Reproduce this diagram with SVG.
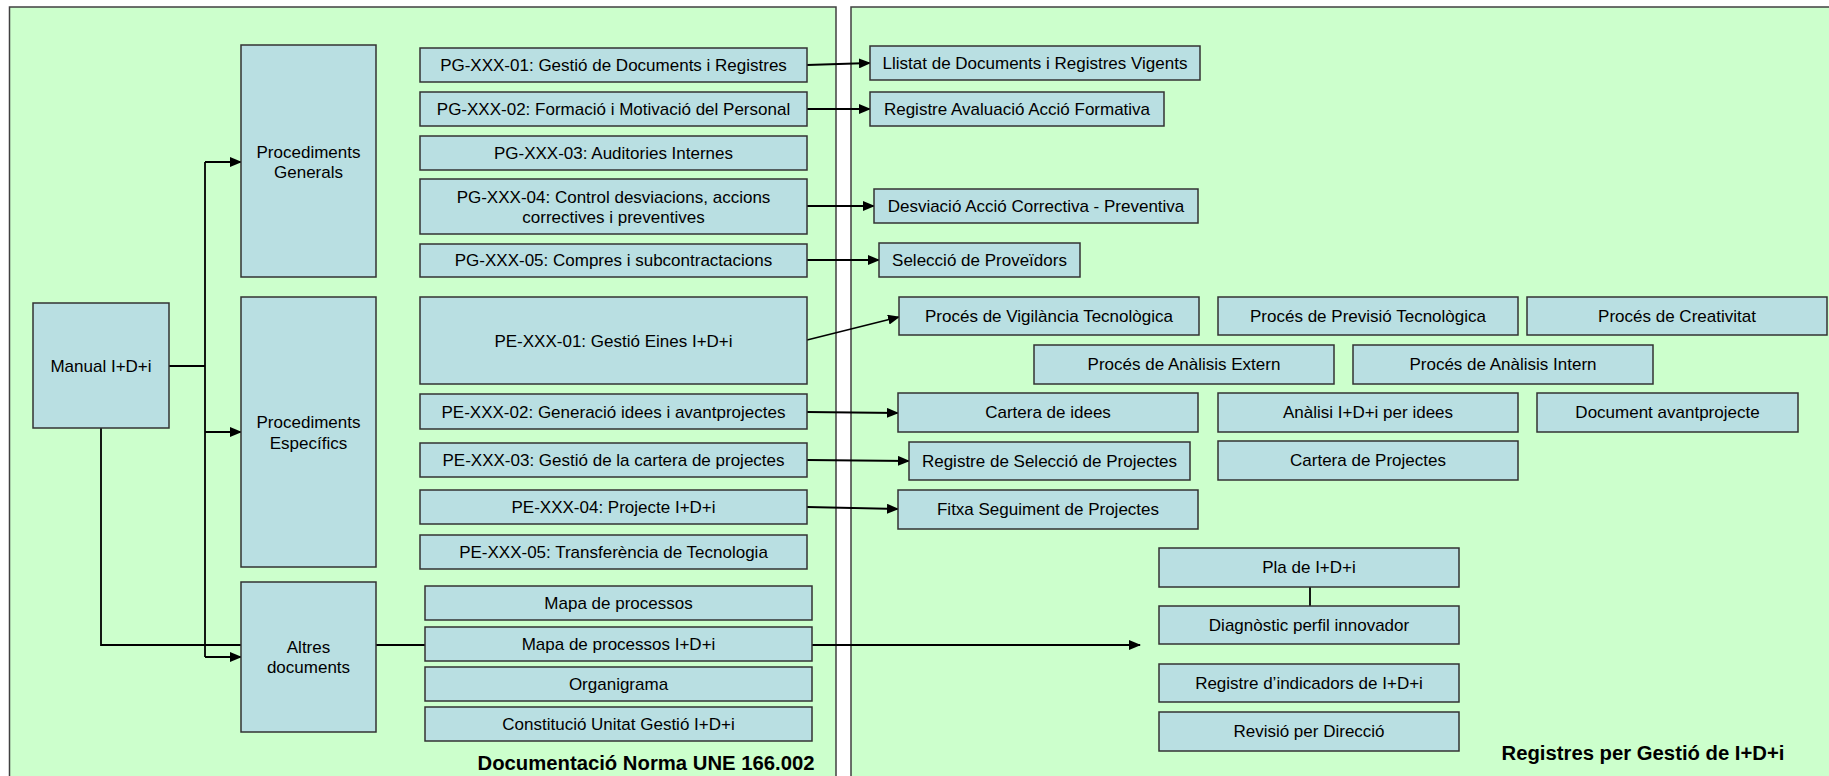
<svg xmlns="http://www.w3.org/2000/svg" width="1829" height="776" viewBox="0 0 1829 776">
<style>
.panel{fill:#CCFFCC;stroke:#404040;stroke-width:1.5}
.box{fill:#B9DFE2;stroke:#333;stroke-width:1.5}
text{font-family:"Liberation Sans",Arial,sans-serif;font-size:17px;fill:#000;text-anchor:middle;dominant-baseline:central}
.title{font-weight:bold;font-size:20.3px}
.con{fill:none;stroke:#000;stroke-width:1.8}
</style>
<defs>
<marker id="ah" markerUnits="userSpaceOnUse" markerWidth="12" markerHeight="10" refX="11" refY="5" orient="auto">
<path d="M0,0 L12,5 L0,10 Z" fill="#000"/>
</marker>
</defs>
<rect width="1829" height="776" fill="#fff"/>
<g id="panel-left"><rect class="panel" x="9.5" y="7" width="826.5" height="780"/><text class="title" x="646" y="763">Documentació Norma UNE 166.002</text></g>
<g id="panel-right"><rect class="panel" x="851" y="7" width="990" height="780"/><text class="title" x="1643" y="753">Registres per Gestió de I+D+i</text></g>

<g id="connectors">
<polyline class="con" points="169,366 205,366"/>
<line class="con" x1="205" y1="162" x2="205" y2="657"/>
<line class="con" x1="205" y1="162" x2="241" y2="162" marker-end="url(#ah)"/>
<line class="con" x1="205" y1="432" x2="241" y2="432" marker-end="url(#ah)"/>
<line class="con" x1="205" y1="657" x2="241" y2="657" marker-end="url(#ah)"/>
<polyline class="con" points="101,428 101,645 241,645"/>
<line class="con" x1="376" y1="645" x2="425" y2="645"/>
<line class="con" x1="812" y1="645" x2="1140" y2="645" marker-end="url(#ah)"/>
<line class="con" x1="807" y1="65" x2="870" y2="63" marker-end="url(#ah)"/>
<line class="con" x1="807" y1="109" x2="870" y2="109" marker-end="url(#ah)"/>
<line class="con" x1="807" y1="206" x2="874" y2="206" marker-end="url(#ah)"/>
<line class="con" x1="807" y1="260" x2="879" y2="260" marker-end="url(#ah)"/>
<line class="con" x1="807" y1="340" x2="899" y2="317" marker-end="url(#ah)"/>
<line class="con" x1="807" y1="412" x2="898" y2="413" marker-end="url(#ah)"/>
<line class="con" x1="807" y1="460" x2="909" y2="461" marker-end="url(#ah)"/>
<line class="con" x1="807" y1="507" x2="898" y2="509" marker-end="url(#ah)"/>
<line class="con" x1="1310" y1="587" x2="1310" y2="606" stroke-width="1.3"/>
</g>

<g id="manual"><rect class="box" x="33" y="303" width="136" height="125"/><text x="101" y="366">Manual I+D+i</text></g>
<g id="proc-generals"><rect class="box" x="241" y="45" width="135" height="232"/><text x="308.5" y="152">Procediments</text><text x="308.5" y="172">Generals</text></g>
<g id="proc-especifics"><rect class="box" x="241" y="297" width="135" height="270"/><text x="308.5" y="422">Procediments</text><text x="308.5" y="443">Específics</text></g>
<g id="altres"><rect class="box" x="241" y="582" width="135" height="150"/><text x="308.5" y="647">Altres</text><text x="308.5" y="667">documents</text></g>

<g id="pg01"><rect class="box" x="420" y="48" width="387" height="34"/><text x="613.5" y="65">PG-XXX-01: Gestió de Documents i Registres</text></g>
<g id="pg02"><rect class="box" x="420" y="92" width="387" height="34"/><text x="613.5" y="109">PG-XXX-02: Formació i Motivació del Personal</text></g>
<g id="pg03"><rect class="box" x="420" y="136" width="387" height="34"/><text x="613.5" y="153">PG-XXX-03: Auditories Internes</text></g>
<g id="pg04"><rect class="box" x="420" y="179" width="387" height="55"/><text x="613.5" y="197">PG-XXX-04: Control desviacions, accions</text><text x="613.5" y="217">correctives i preventives</text></g>
<g id="pg05"><rect class="box" x="420" y="244" width="387" height="33"/><text x="613.5" y="260.5">PG-XXX-05: Compres i subcontractacions</text></g>
<g id="pe01"><rect class="box" x="420" y="297" width="387" height="87"/><text x="613.5" y="341">PE-XXX-01: Gestió Eines I+D+i</text></g>
<g id="pe02"><rect class="box" x="420" y="394" width="387" height="35"/><text x="613.5" y="412">PE-XXX-02: Generació idees i avantprojectes</text></g>
<g id="pe03"><rect class="box" x="420" y="443" width="387" height="34"/><text x="613.5" y="460">PE-XXX-03: Gestió de la cartera de projectes</text></g>
<g id="pe04"><rect class="box" x="420" y="490" width="387" height="34"/><text x="613.5" y="507">PE-XXX-04: Projecte I+D+i</text></g>
<g id="pe05"><rect class="box" x="420" y="535" width="387" height="34"/><text x="613.5" y="552">PE-XXX-05: Transferència de Tecnologia</text></g>
<g id="mapa"><rect class="box" x="425" y="586" width="387" height="34"/><text x="618.5" y="603">Mapa de processos</text></g>
<g id="mapa-idi"><rect class="box" x="425" y="627" width="387" height="34"/><text x="618.5" y="644">Mapa de processos I+D+i</text></g>
<g id="organigrama"><rect class="box" x="425" y="667" width="387" height="34"/><text x="618.5" y="684">Organigrama</text></g>
<g id="constitucio"><rect class="box" x="425" y="707" width="387" height="34"/><text x="618.5" y="724">Constitució Unitat Gestió I+D+i</text></g>

<g id="llistat"><rect class="box" x="870" y="46" width="330" height="34"/><text x="1035" y="63">Llistat de Documents i Registres Vigents</text></g>
<g id="registre-aval"><rect class="box" x="870" y="92" width="294" height="34"/><text x="1017" y="109">Registre Avaluació Acció Formativa</text></g>
<g id="desviacio"><rect class="box" x="874" y="189" width="324" height="34"/><text x="1036" y="206">Desviació Acció Correctiva - Preventiva</text></g>
<g id="seleccio-prov"><rect class="box" x="879" y="243" width="201" height="34"/><text x="979.5" y="260">Selecció de Proveïdors</text></g>
<g id="vigilancia"><rect class="box" x="899" y="297" width="300" height="38"/><text x="1049" y="316">Procés de Vigilància Tecnològica</text></g>
<g id="previsio"><rect class="box" x="1218" y="297" width="300" height="38"/><text x="1368" y="316">Procés de Previsió Tecnològica</text></g>
<g id="creativitat"><rect class="box" x="1527" y="297" width="300" height="38"/><text x="1677" y="316">Procés de Creativitat</text></g>
<g id="analisis-extern"><rect class="box" x="1034" y="345" width="300" height="39"/><text x="1184" y="364.5">Procés de Anàlisis Extern</text></g>
<g id="analisis-intern"><rect class="box" x="1353" y="345" width="300" height="39"/><text x="1503" y="364.5">Procés de Anàlisis Intern</text></g>
<g id="cartera-idees"><rect class="box" x="898" y="393" width="300" height="39"/><text x="1048" y="412.5">Cartera de idees</text></g>
<g id="analisi-idees"><rect class="box" x="1218" y="393" width="300" height="39"/><text x="1368" y="412.5">Anàlisi I+D+i per idees</text></g>
<g id="avantprojecte"><rect class="box" x="1537" y="393" width="261" height="39"/><text x="1667.5" y="412.5">Document avantprojecte</text></g>
<g id="registre-seleccio"><rect class="box" x="909" y="442" width="281" height="38"/><text x="1049.5" y="461">Registre de Selecció de Projectes</text></g>
<g id="cartera-projectes"><rect class="box" x="1218" y="441" width="300" height="39"/><text x="1368" y="460.5">Cartera de Projectes</text></g>
<g id="fitxa"><rect class="box" x="898" y="490" width="300" height="39"/><text x="1048" y="509.5">Fitxa Seguiment de Projectes</text></g>
<g id="pla"><rect class="box" x="1159" y="548" width="300" height="39"/><text x="1309" y="567.5">Pla de I+D+i</text></g>
<g id="diagnostic"><rect class="box" x="1159" y="606" width="300" height="38"/><text x="1309" y="625">Diagnòstic perfil innovador</text></g>
<g id="indicadors"><rect class="box" x="1159" y="664" width="300" height="38"/><text x="1309" y="683">Registre d’indicadors de I+D+i</text></g>
<g id="revisio"><rect class="box" x="1159" y="712" width="300" height="39"/><text x="1309" y="731.5">Revisió per Direcció</text></g>
</svg>
